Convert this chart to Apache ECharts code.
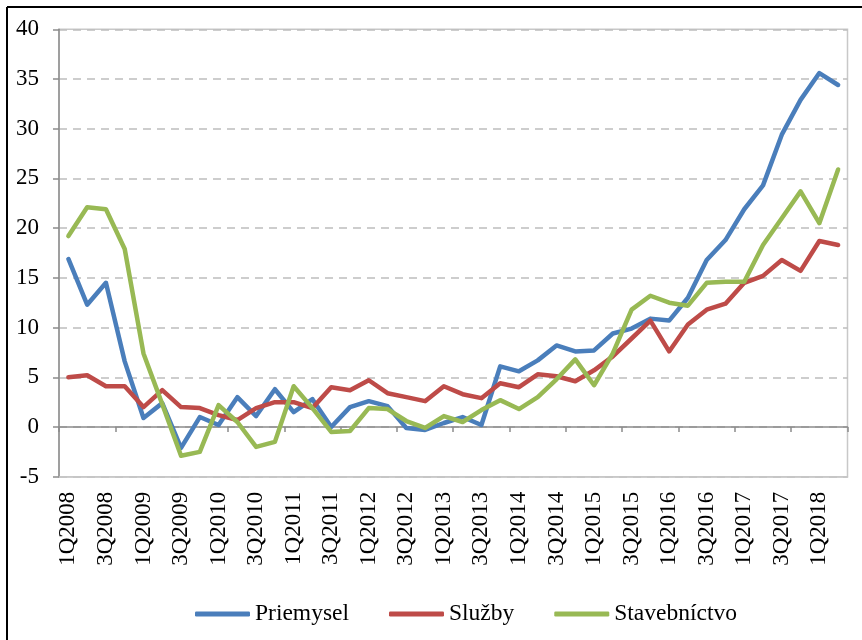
<!DOCTYPE html>
<html>
<head>
<meta charset="utf-8">
<script src="https://cdn.jsdelivr.net/npm/echarts@6/dist/echarts.min.js"></script>
<style>
  html, body { margin: 0; padding: 0; background: #fff; }
  #chart { width: 862px; height: 640px; }
</style>
</head>
<body>
<div id="chart"></div>
<script>
// quarters 1Q2008 .. 2Q2018
const quarters = []
for (let y = 2008; y <= 2018; y++) {
  for (let q = 1; q <= 4; q++) {
    if (y === 2018 && q > 2) break
    quarters.push(q + 'Q' + y)
  }
}

const seriesNames = ['Priemysel', 'Služby', 'Stavebníctvo']

const priemysel = [
  16.9, 12.3, 14.5, 6.6, 0.9, 2.4, -2.1, 1.0, 0.2, 3.0,
  1.1, 3.8, 1.5, 2.8, 0.0, 2.0, 2.6, 2.1, -0.1, -0.3,
  0.4, 1.0, 0.2, 6.1, 5.6, 6.7, 8.2, 7.6, 7.7, 9.4,
  9.9, 10.9, 10.7, 13.0, 16.8, 18.8, 21.9, 24.3, 29.4, 32.9,
  35.6, 34.4
]

const sluzby = [
  5.0, 5.2, 4.1, 4.1, 2.0, 3.7, 2.0, 1.9, 1.2, 0.7,
  1.9, 2.5, 2.5, 1.9, 4.0, 3.7, 4.7, 3.4, 3.0, 2.6,
  4.1, 3.3, 2.9, 4.4, 4.0, 5.3, 5.1, 4.6, 5.7, 7.1,
  8.9, 10.7, 7.6, 10.3, 11.8, 12.4, 14.5, 15.2, 16.8, 15.7,
  18.7, 18.3
]

const stavebnictvo = [
  19.2, 22.1, 21.9, 17.9, 7.4, 2.3, -2.9, -2.5, 2.2, 0.5,
  -2.0, -1.5, 4.1, 1.9, -0.5, -0.4, 1.9, 1.8, 0.6, -0.1,
  1.1, 0.5, 1.7, 2.7, 1.8, 3.0, 4.8, 6.8, 4.2, 7.4,
  11.8, 13.2, 12.5, 12.2, 14.5, 14.6, 14.6, 18.3, 21.0, 23.7,
  20.5, 25.9
]

const colors = ['#4a7ebb', '#be4b48', '#98b954']
const font = 'Liberation Serif'

function lineSeries(name, data, color) {
  return {
    name: name,
    type: 'line',
    data: data,
    xAxisIndex: 0,
    symbol: 'none',
    lineStyle: { width: 4.5, color: color, cap: 'round', join: 'round' },
    itemStyle: { color: color }
  }
}

const myChart = echarts.init(document.getElementById('chart'))
myChart.setOption({
  animation: false,
  color: colors,
  textStyle: { fontFamily: font },
  grid: {
    left: 59,
    right: 14.5,
    top: 29.3,
    bottom: 163.3,
    show: true,
    borderColor: '#c8c8c8',
    borderWidth: 1.5
  },
  legend: {
    data: seriesNames,
    left: 195,
    top: 602,
    padding: 0,
    icon: 'roundRect',
    itemWidth: 55,
    itemHeight: 5,
    itemGap: 40,
    textStyle: { fontFamily: font, fontSize: 23.5, color: '#000' }
  },
  xAxis: [
    {
      type: 'category',
      data: quarters,
      boundaryGap: true,
      axisLine: { onZero: true, lineStyle: { color: '#8c8c8c', width: 1.5 } },
      axisTick: { show: true, length: 5, inside: false, lineStyle: { color: '#8c8c8c', width: 1.5 } },
      axisLabel: { show: false },
      splitLine: { show: false }
    },
    {
      type: 'category',
      data: quarters,
      boundaryGap: true,
      position: 'bottom',
      axisLine: { onZero: false, lineStyle: { color: '#c8c8c8', width: 1.5 } },
      axisTick: { show: false },
      axisLabel: {
        interval: 1,
        rotate: 90,
        margin: 15,
        fontFamily: font,
        fontSize: 23,
        color: '#000'
      },
      splitLine: { show: false }
    }
  ],
  yAxis: {
    type: 'value',
    min: -5,
    max: 40,
    interval: 5,
    axisLine: { show: true, lineStyle: { color: '#8c8c8c', width: 1.5 } },
    axisTick: { show: true, length: 6, lineStyle: { color: '#8c8c8c', width: 1.5 } },
    axisLabel: { margin: 20, fontFamily: font, fontSize: 23, color: '#000' },
    splitLine: { lineStyle: { type: [8, 6], color: '#bdbdbd', width: 1.5 } }
  },
  graphic: [
    { type: 'line', shape: { x1: 7, y1: 7, x2: 862, y2: 7 }, style: { stroke: '#000', lineWidth: 2 } },
    { type: 'line', shape: { x1: 7, y1: 7, x2: 7, y2: 640 }, style: { stroke: '#000', lineWidth: 2 } }
  ],
  series: [
    lineSeries(seriesNames[0], priemysel, colors[0]),
    lineSeries(seriesNames[1], sluzby, colors[1]),
    lineSeries(seriesNames[2], stavebnictvo, colors[2])
  ]
})
</script>
</body>
</html>
